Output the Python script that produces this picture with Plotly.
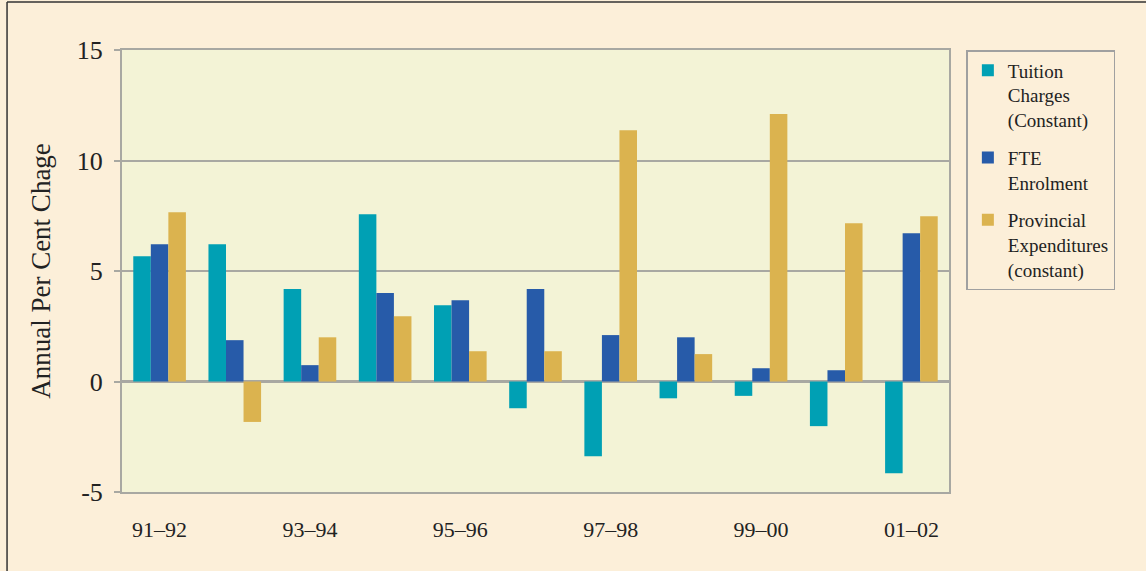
import plotly.graph_objects as go

# ---- data ----
years = ["91–92", "92–93", "93–94", "94–95", "95–96", "96–97",
         "97–98", "98–99", "99–00", "00–01", "01–02"]
tuition = [5.67, 6.21, 4.18, 7.57, 3.45, -1.21, -3.38, -0.76, -0.65, -2.02, -4.15]
fte = [6.21, 1.87, 0.74, 4.00, 3.68, 4.18, 2.10, 2.00, 0.60, 0.51, 6.71]
provincial = [7.66, -1.83, 2.00, 2.95, 1.37, 1.37, 11.37, 1.24, 12.10, 7.16, 7.48]
series_names = ["Tuition<br>Charges<br>(Constant)", "FTE<br>Enrolment",
                "Provincial<br>Expenditures<br>(constant)"]
y_ticks = [-5, 0, 5, 10, 15]
y_tick_text = ["-5", "0", "5", "10", "15"]
label_years = years[::2]

colors = ["#00A0B4", "#275BA9", "#DBB34F"]
GRID = "#A8A8A2"
SERIF = "Liberation Serif, DejaVu Serif, serif"

fig = go.Figure()
for i, (name, vals) in enumerate(zip(series_names, [tuition, fte, provincial])):
    fig.add_trace(go.Bar(x=years, y=vals, name=name, marker_color=colors[i],
                         marker_line_width=0, legendgroup=str(i)))

idx = list(range(len(years)))
centers = idx
bounds = [i + 0.5 for i in idx]

fig.update_layout(
    width=1146, height=571,
    margin=dict(l=122, r=197, t=50, b=79),
    paper_bgcolor="#FCEFD9",
    plot_bgcolor="#F3F3D6",
    barmode="group", bargap=0.3, bargroupgap=0,
    font=dict(family=SERIF, color="#222222"),
    showlegend=True,
    legend=dict(x=1.021, y=1.0, xanchor="left", yanchor="top",
                bordercolor="#A0A0A0", borderwidth=1.5, bgcolor="rgba(0,0,0,0)",
                font=dict(size=19, family=SERIF, color="#222222"),
                valign="top", tracegroupgap=10, itemwidth=30),
    xaxis=dict(type="category", range=[-0.5, 10.5], tickvals=label_years,
               ticktext=label_years, ticks="outside", ticklen=17,
               tickcolor="rgba(0,0,0,0)", showline=True, mirror=True,
               linecolor=GRID, linewidth=2, showgrid=False,
               tickfont=dict(size=22, family=SERIF, color="#222222")),
    xaxis2=dict(overlaying="x", anchor="free", position=0.25, side="bottom",
                range=[-0.5, 10.5], tickvals=bounds, ticks="outside", ticklen=7,
                tickwidth=2, tickcolor=GRID, showticklabels=False, showline=False,
                showgrid=False, zeroline=False),
    xaxis3=dict(overlaying="x", anchor="free", position=0.25, side="bottom",
                range=[-0.5, 10.5], tickvals=centers, ticks="outside", ticklen=5,
                tickwidth=2, tickcolor=GRID, showticklabels=False, showline=False,
                showgrid=False, zeroline=False),
    xaxis4=dict(overlaying="x", anchor="free", position=0.25, side="top",
                range=[-0.5, 10.5], tickvals=centers, ticks="outside", ticklen=4,
                tickwidth=2, tickcolor=GRID, showticklabels=False, showline=False,
                showgrid=False, zeroline=False),
    yaxis=dict(range=[-5, 15], tickvals=y_ticks, ticktext=y_tick_text,
               showgrid=True, gridcolor=GRID,
               gridwidth=1.5, zeroline=True, zerolinecolor=GRID, zerolinewidth=2.5,
               showline=True, mirror=True, linecolor=GRID, linewidth=2,
               ticks="outside", ticklen=6, tickwidth=1.5, tickcolor=GRID,
               ticklabelstandoff=6,
               tickfont=dict(size=26, family=SERIF, color="#222222"),
               title=dict(text="Annual Per Cent Chage", standoff=18,
                          font=dict(size=27, family=SERIF, color="#222222"))),
    shapes=[
        dict(type="line", xref="paper", yref="paper", x0=-0.139, x1=-0.139,
             y0=1.1086, y1=-0.2, line=dict(color="#333333", width=1.5)),
        dict(type="line", xref="paper", yref="paper", x0=-0.139, x1=1.3,
             y0=1.1086, y1=1.1086, line=dict(color="#333333", width=1.5)),
    ],
)

fig.write_html("out.html",
               config={"displayModeBar": False},
               post_script="document.body.style.margin='0';"
                           "document.body.style.background='#FCEFD9';")
